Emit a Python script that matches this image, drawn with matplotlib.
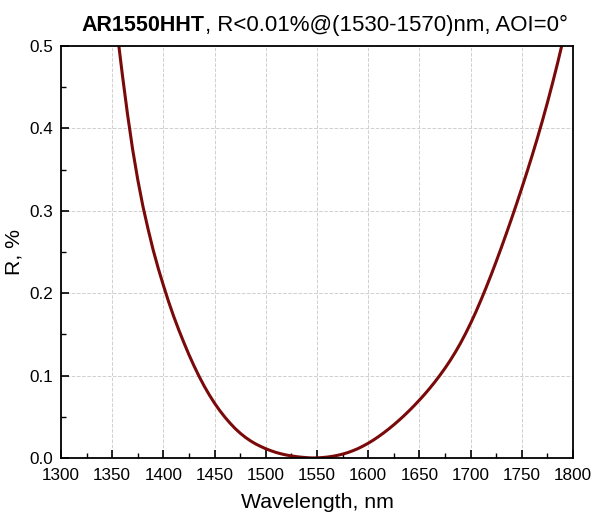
import matplotlib
matplotlib.use('Agg')
import matplotlib.pyplot as plt
from matplotlib.ticker import MultipleLocator

plt.rcParams['font.family'] = ['Liberation Sans', 'DejaVu Sans']

# wavelength (nm), every 5 nm
wavelength = list(range(1355, 1795, 5))
# reflectance (%)
reflectance = [
    0.5155, 0.4644, 0.4168, 0.3742, 0.3375, 0.3055, 0.2780, 0.2525, 0.2300, 0.2095,
    0.1900, 0.1720, 0.1555, 0.1400, 0.1252, 0.1115, 0.0987, 0.0869, 0.0762, 0.0664,
    0.0576, 0.0496, 0.0424, 0.0358, 0.0301, 0.0251, 0.0208, 0.0171, 0.0140, 0.0112,
    0.0088, 0.0067, 0.0050, 0.0036, 0.0025, 0.0016, 0.0009, 0.0004, 0.0000,
    0.0001, 0.0005, 0.0011, 0.0020, 0.0032, 0.0047, 0.0065, 0.0088, 0.0114, 0.0145,
    0.0179, 0.0217, 0.0259, 0.0304, 0.0352, 0.0403, 0.0457, 0.0514, 0.0574, 0.0637,
    0.0703, 0.0772, 0.0845, 0.0922, 0.1004, 0.1090, 0.1183, 0.1283, 0.1391, 0.1509,
    0.1635, 0.1770, 0.1914, 0.2065, 0.2222, 0.2386, 0.2555, 0.2729, 0.2907, 0.3090,
    0.3278, 0.3470, 0.3669, 0.3875, 0.4090, 0.4315, 0.4551, 0.4798, 0.5058]

title_bold = 'AR1550HHT'
title_rest = ', R<0.01%@(1530-1570)nm, AOI=0°'

fig = plt.figure(figsize=(5.94, 5.24), dpi=100)
ax = fig.add_axes([0.1027, 0.126, 0.862, 0.786])

ax.plot(wavelength, reflectance, color='#7a0a0a', linewidth=2.2)

ax.set_xlim(1300, 1800)
ax.set_ylim(0, 0.5)
ax.xaxis.set_major_locator(MultipleLocator(50))
ax.xaxis.set_minor_locator(MultipleLocator(25))
ax.yaxis.set_major_locator(MultipleLocator(0.1))
ax.yaxis.set_minor_locator(MultipleLocator(0.05))
ax.yaxis.set_major_formatter(plt.FormatStrFormatter('%.1f'))

ax.tick_params(which='major', direction='in', length=6, width=1.2, labelsize=12.3)
ax.tick_params(which='minor', direction='in', length=3.5, width=1.0)
ax.tick_params(axis='x', which='major', pad=7.5)
ax.tick_params(axis='y', which='major', pad=6)
for s in ax.spines.values():
    s.set_linewidth(1.3)

ax.grid(True, which='major', linestyle='--', color='#d0d0d0', linewidth=0.7)
ax.set_axisbelow(True)

ax.set_xlabel('Wavelength, nm', fontsize=15.3, labelpad=7)
ax.set_ylabel('R, %', fontsize=15.3, labelpad=4)

# title: bold part, then the normal part right after it
yb = 1 - 30.7 / 524
t1 = fig.text(81.7 / 594, yb, title_bold, fontsize=15.5, fontweight='bold',
              ha='left', va='baseline')
fig.canvas.draw()
bb = t1.get_window_extent()
fig.text(bb.x1 / fig.bbox.width, yb, title_rest, fontsize=16, ha='left', va='baseline')

fig.savefig('out.png', dpi=100)
